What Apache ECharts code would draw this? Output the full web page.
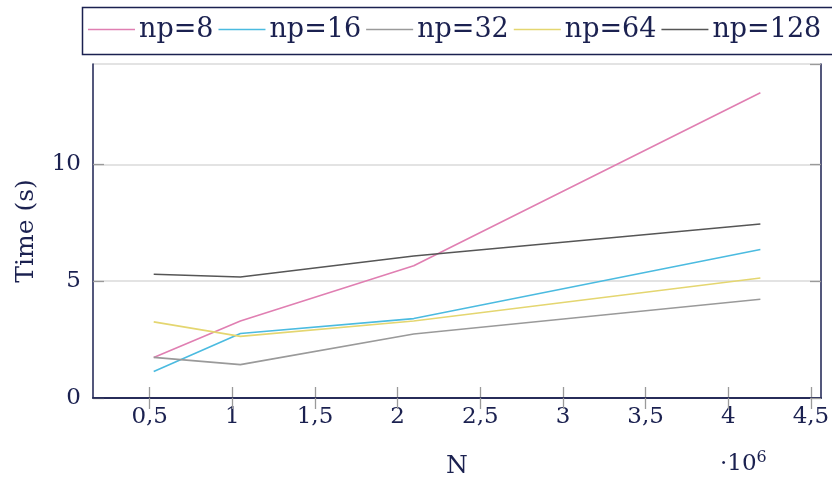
<!DOCTYPE html>
<html>
<head>
<meta charset="utf-8">
<script src="https://cdn.jsdelivr.net/npm/echarts@6/dist/echarts.min.js"></script>
<style>
  html, body { margin: 0; padding: 0; background: #fff; }
  #chart { width: 832px; height: 484px; }
</style>
</head>
<body>
<div id="chart"></div>
<script>
(function() {
  // problem sizes (N), plotted in units of 10^6
  var sizes = [524288, 1048576, 2097152, 4194304];
  var np8   = [1.73, 3.30, 5.66, 13.07];
  var np16  = [1.13, 2.76, 3.40, 6.36];
  var np32  = [1.74, 1.43, 2.74, 4.23];
  var np64  = [3.26, 2.64, 3.30, 5.14];
  var np128 = [5.30, 5.18, 6.08, 7.45];
  var xTicks = [0.5, 1, 1.5, 2, 2.5, 3, 3.5, 4, 4.5];

  var ink = '#1b2150';
  var tickGray = '#9a9a9a';
  var font = 'DejaVu Serif';

  function pairs(vals) {
    return sizes.map(function(n, i) { return [n / 1e6, vals[i]]; });
  }

  function line(name, color, vals) {
    return {
      name: name,
      type: 'line',
      data: pairs(vals),
      symbol: 'none',
      lineStyle: { color: color, width: 1.6 },
      itemStyle: { color: color }
    };
  }

  var chart = echarts.init(document.getElementById('chart'), null, { renderer: 'canvas' });
  chart.setOption({
    animation: false,
    textStyle: { fontFamily: font, color: ink },
    grid: { left: 93, right: 11, top: 64, bottom: 86, outerBoundsMode: 'none', containLabel: false },
    legend: {
      left: 88,
      top: 16,
      width: 900,
      padding: 0,
      icon: 'rect',
      itemWidth: 47,
      itemHeight: 1.6,
      itemGap: 5,
      textStyle: { fontFamily: font, fontSize: 27, color: ink, padding: [0, 0, 0, -1] },
      data: ['np=8', 'np=16', 'np=32', 'np=64', 'np=128']
    },
    xAxis: [{
      type: 'value',
      min: 0.157,
      max: 4.561,
      name: 'N',
      nameLocation: 'middle',
      nameGap: 56,
      nameTextStyle: { fontFamily: font, fontSize: 25, color: ink },
      axisLine: { show: true, lineStyle: { color: ink, width: 1.5 } },
      axisTick: { show: true, inside: true, length: 11, customValues: xTicks, lineStyle: { color: tickGray, width: 1.3 } },
      axisLabel: {
        customValues: xTicks,
        fontFamily: font, fontSize: 23, color: ink, margin: 8,
        formatter: function(v) { return String(v).replace('.', ','); }
      },
      splitLine: { show: false }
    }, {
      type: 'value',
      position: 'top',
      z: 5,
      min: 0.157,
      max: 4.561,
      axisLine: { show: true, lineStyle: { color: ink, width: 1.5 } },
      axisTick: { show: true, inside: true, length: 11, customValues: xTicks, lineStyle: { color: tickGray, width: 1.3 } },
      axisLabel: { show: false },
      splitLine: { show: false }
    }],
    yAxis: [{
      type: 'value',
      min: 0,
      max: 14.3,
      interval: 5,
      name: 'Time (s)',
      nameLocation: 'middle',
      nameGap: 54,
      nameTextStyle: { fontFamily: font, fontSize: 25, color: ink },
      axisLine: { show: true, lineStyle: { color: ink, width: 1.5 } },
      axisTick: { show: true, inside: true, length: 11, lineStyle: { color: tickGray, width: 1.3 } },
      axisLabel: { fontFamily: font, fontSize: 23, color: ink, margin: 12, showMaxLabel: false },
      splitLine: { show: true, lineStyle: { color: '#dadada', width: 1.6 } }
    }, {
      type: 'value',
      position: 'right',
      z: 5,
      min: 0,
      max: 14.3,
      interval: 5,
      axisLine: { show: true, lineStyle: { color: ink, width: 1.5 } },
      axisTick: { show: true, inside: true, length: 11, lineStyle: { color: tickGray, width: 1.3 } },
      axisLabel: { show: false },
      splitLine: { show: false }
    }],
    graphic: [{
      type: 'rect',
      left: 80,
      top: 5,
      shape: { width: 760, height: 47 },
      style: { fill: 'none', stroke: ink, lineWidth: 1.5 },
      silent: true
    }, {
      type: 'text',
      left: 720,
      top: 450,
      style: {
        text: '·10{sup|6}',
        font: '23px "DejaVu Serif"',
        fill: ink,
        rich: { sup: { fontSize: 16, verticalAlign: 'top', padding: [0, 0, 12, 0], fontFamily: font } }
      }
    }],
    series: [
      line('np=8', '#e07fb2', np8),
      line('np=16', '#4bbbe0', np16),
      line('np=32', '#9a9a9a', np32),
      line('np=64', '#e4d670', np64),
      line('np=128', '#565656', np128)
    ]
  });
})();
</script>
</body>
</html>
